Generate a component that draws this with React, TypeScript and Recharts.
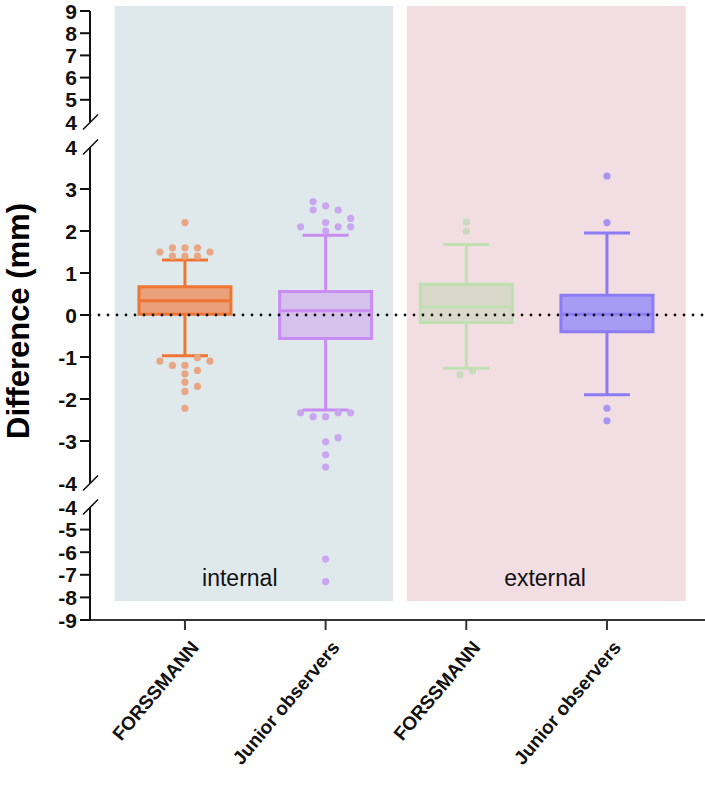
import { ComposedChart, XAxis, YAxis, Scatter, ReferenceArea, ReferenceLine, ReferenceDot } from 'recharts';

// categories, placed at x = 1..4
const categories = ['FORSSMANN', 'Junior observers', 'FORSSMANN', 'Junior observers'];
const catX = [1, 2, 3, 4];

// box statistics per category
const q1 = [0.02, -0.56, -0.18, -0.4];
const median = [0.34, 0.1, 0.19, 0.02];
const q3 = [0.67, 0.56, 0.73, 0.47];
const whiskerLow = [-0.97, -2.26, -1.27, -1.9];
const whiskerHigh = [1.31, 1.9, 1.68, 1.95];

// outliers: [dodge slot, value]
const outForssmannInt = [
  [-2, 1.5], [-1, 1.6], [0, 1.6], [1, 1.6], [2, 1.5], [-1, 1.4], [0, 1.4], [1, 1.4], [0, 2.2],
  [-2, -1.1], [-1, -1.2], [0, -1.2], [1, -1.02], [2, -1.1], [0, -1.4], [1, -1.32],
  [0, -1.6], [1, -1.7], [0, -1.82], [0, -2.22],
];
const outJuniorInt = [
  [-1, 2.7], [0, 2.6], [-1, 2.5], [1, 2.5], [-2, 2.1], [0, 2.2], [1, 2.1], [2, 2.3], [2, 2.1], [0, 2.0],
  [-2, -2.33], [-1, -2.42], [0, -2.42], [1, -2.33], [2, -2.33], [0, -3.02], [1, -2.92],
  [0, -3.33], [0, -3.62], [0, -6.3], [0, -7.3],
];
const outForssmannExt = [[0, 2.21], [0, 2.0], [-0.5, -1.42], [0.5, -1.33]];
const outJuniorExt = [[0, 3.31], [0, 2.2], [0, -2.22], [0, -2.52]];
const outliers = [outForssmannInt, outJuniorInt, outForssmannExt, outJuniorExt];

// group panels (internal / external)
const groups = ['internal', 'external'];
const groupX1 = [0.5, 2.578];
const groupX2 = [2.48, 4.56];
const groupLabelX = [1.39, 3.56];
const groupLabelY = -7.14;
const panelTop = 9.22;
const panelBottom = -8.16;

const strokeColors = ['#EE7632', '#C88CF2', '#BFE0B0', '#8B7BF7'];
const fillColors = ['#E9A07B', '#D5C2EC', '#DAD8CA', '#A89BF3'];
const dotColors = ['#E8A684', '#C9A7F0', '#C9DBBD', '#A696F3'];
const panelColors = ['#DFE9EC', '#F2DDE2'];

const xDomain = [0.325, 4.697];
const boxHalf = 0.327;
const capHalf = 0.1635;
const slotWidth = 0.089;
const XAXIS_H = 171;
const FONT = '"Liberation Sans", Arial, sans-serif';

// broken y axis: three stacked charts
const segments = [
  { domain: [4, 9], ticks: [4, 5, 6, 7, 8, 9], breaks: [4], height: 134, top: 11, bottom: 12, xAxis: false },
  { domain: [-4, 4], ticks: [-4, -3, -2, -1, 0, 1, 2, 3, 4], breaks: [-4, 4], height: 360, top: 13, bottom: 11, xAxis: false },
  { domain: [-9, -4], ticks: [-9, -8, -7, -6, -5, -4], breaks: [-4], height: 297, top: 13, bottom: 0, xAxis: true },
];

const YTick = (props: any) => {
  const { x, y, payload, breaks } = props;
  const ax = x + 13;
  const isBreak = breaks.includes(payload.value);
  return (
    <g>
      <text x={x} y={y} textAnchor="end" dominantBaseline="central" fontSize={21} fontWeight="bold" fill="#111">
        {payload.value}
      </text>
      {isBreak ? (
        <line x1={ax - 7} y1={y + 7.5} x2={ax + 8} y2={y - 7.5} stroke="#111" strokeWidth={1.6} />
      ) : (
        <line x1={ax - 10} y1={y} x2={ax} y2={y} stroke="#111" strokeWidth={2} />
      )}
    </g>
  );
};

const XTick = (props: any) => {
  const { x, y, payload } = props;
  const ax = x + 15;
  const ay = y + 16;
  return (
    <text x={ax} y={ay} transform={`rotate(-50 ${ax} ${ay})`} textAnchor="end" fontSize={19} fontWeight="bold" fill="#111">
      {categories[payload.value - 1]}
    </text>
  );
};

const YTitle = (props: any) => {
  const { viewBox } = props;
  const cx = viewBox.x + 18;
  const cy = viewBox.y + viewBox.height / 2 + 6;
  return (
    <text x={cx} y={cy} transform={`rotate(-90 ${cx} ${cy})`} textAnchor="middle" dominantBaseline="central" fontSize={31} fontWeight="bold" fill="#000">
      Difference (mm)
    </text>
  );
};

function Segment({ seg, showTitle }: { seg: (typeof segments)[number]; showTitle: boolean }) {
  const [d0, d1] = seg.domain;
  const plotH = seg.height - seg.top - seg.bottom - (seg.xAxis ? XAXIS_H : 0);
  const ppu = plotH / (d1 - d0);
  const yHi = Math.min(panelTop, d1 + seg.top / ppu);
  const yLo = Math.max(panelBottom, d0 - seg.bottom / ppu);
  const inRange = (v: number) => v >= d0 && v <= d1;

  return (
    <ComposedChart width={705} height={seg.height} margin={{ top: seg.top, right: 0, bottom: seg.bottom, left: 0 }}>
      <XAxis
        type="number"
        dataKey="x"
        domain={xDomain}
        allowDataOverflow
        ticks={catX}
        interval={0}
        hide={!seg.xAxis}
        height={seg.xAxis ? XAXIS_H : 0}
        tick={<XTick />}
        tickSize={10}
        tickLine={{ stroke: '#333', strokeWidth: 2 }}
        axisLine={{ stroke: '#333', strokeWidth: 2 }}
      />
      <YAxis
        type="number"
        dataKey="y"
        domain={seg.domain}
        allowDataOverflow
        ticks={seg.ticks}
        interval={0}
        width={90}
        tickSize={10}
        tickMargin={3}
        tickLine={false}
        tick={<YTick breaks={seg.breaks} />}
        axisLine={{ stroke: '#111', strokeWidth: 2 }}
        label={showTitle ? { content: <YTitle /> } : undefined}
      />
      {groups.map((g, i) => (
        <ReferenceArea
          key={g}
          x1={groupX1[i]}
          x2={groupX2[i]}
          y1={yLo}
          y2={yHi}
          fill={panelColors[i]}
          fillOpacity={1}
          stroke="none"
          ifOverflow="visible"
        />
      ))}
      {catX.map((c, i) =>
        inRange(q1[i]) && inRange(q3[i]) ? (
          <ReferenceArea
            key={'box' + i}
            x1={c - boxHalf}
            x2={c + boxHalf}
            y1={q1[i]}
            y2={q3[i]}
            fill={fillColors[i]}
            fillOpacity={1}
            stroke={strokeColors[i]}
            strokeWidth={3}
            ifOverflow="visible"
          />
        ) : null
      )}
      {catX.map((c, i) =>
        inRange(whiskerHigh[i]) && inRange(whiskerLow[i]) ? (
          <g key={'wh' + i}>
            <ReferenceLine segment={[{ x: c, y: q3[i] }, { x: c, y: whiskerHigh[i] }]} stroke={strokeColors[i]} strokeWidth={3} ifOverflow="visible" />
            <ReferenceLine segment={[{ x: c, y: q1[i] }, { x: c, y: whiskerLow[i] }]} stroke={strokeColors[i]} strokeWidth={3} ifOverflow="visible" />
            <ReferenceLine segment={[{ x: c - capHalf, y: whiskerHigh[i] }, { x: c + capHalf, y: whiskerHigh[i] }]} stroke={strokeColors[i]} strokeWidth={3} ifOverflow="visible" />
            <ReferenceLine segment={[{ x: c - capHalf, y: whiskerLow[i] }, { x: c + capHalf, y: whiskerLow[i] }]} stroke={strokeColors[i]} strokeWidth={3} ifOverflow="visible" />
            <ReferenceLine segment={[{ x: c - boxHalf, y: median[i] }, { x: c + boxHalf, y: median[i] }]} stroke={strokeColors[i]} strokeWidth={3} ifOverflow="visible" />
          </g>
        ) : null
      )}
      {inRange(0) ? (
        <ReferenceLine y={0} stroke="#111" strokeWidth={2.8} strokeDasharray="0 9" strokeLinecap="round" />
      ) : null}
      {catX.map((c, i) => (
        <Scatter
          key={'pts' + i}
          data={outliers[i].filter((p) => inRange(p[1])).map((p) => ({ x: c + p[0] * slotWidth, y: p[1] }))}
          isAnimationActive={false}
          shape={(p: any) => <circle cx={p.cx} cy={p.cy} r={3.6} fill={dotColors[i]} />}
        />
      ))}
      {seg.xAxis
        ? groups.map((g, i) => (
            <ReferenceDot
              key={'lbl' + g}
              x={groupLabelX[i]}
              y={groupLabelY}
              r={0}
              fill="none"
              stroke="none"
              ifOverflow="visible"
              label={{ value: g, position: 'center', fontSize: 23, fill: '#111' }}
            />
          ))
        : null}
    </ComposedChart>
  );
}

export default function App() {
  return (
    <div style={{ position: 'absolute', left: 0, top: 0, width: 705, height: 791, background: '#fff', fontFamily: FONT }}>
      {segments.map((seg, i) => (
        <Segment key={i} seg={seg} showTitle={i === 1} />
      ))}
    </div>
  );
}
